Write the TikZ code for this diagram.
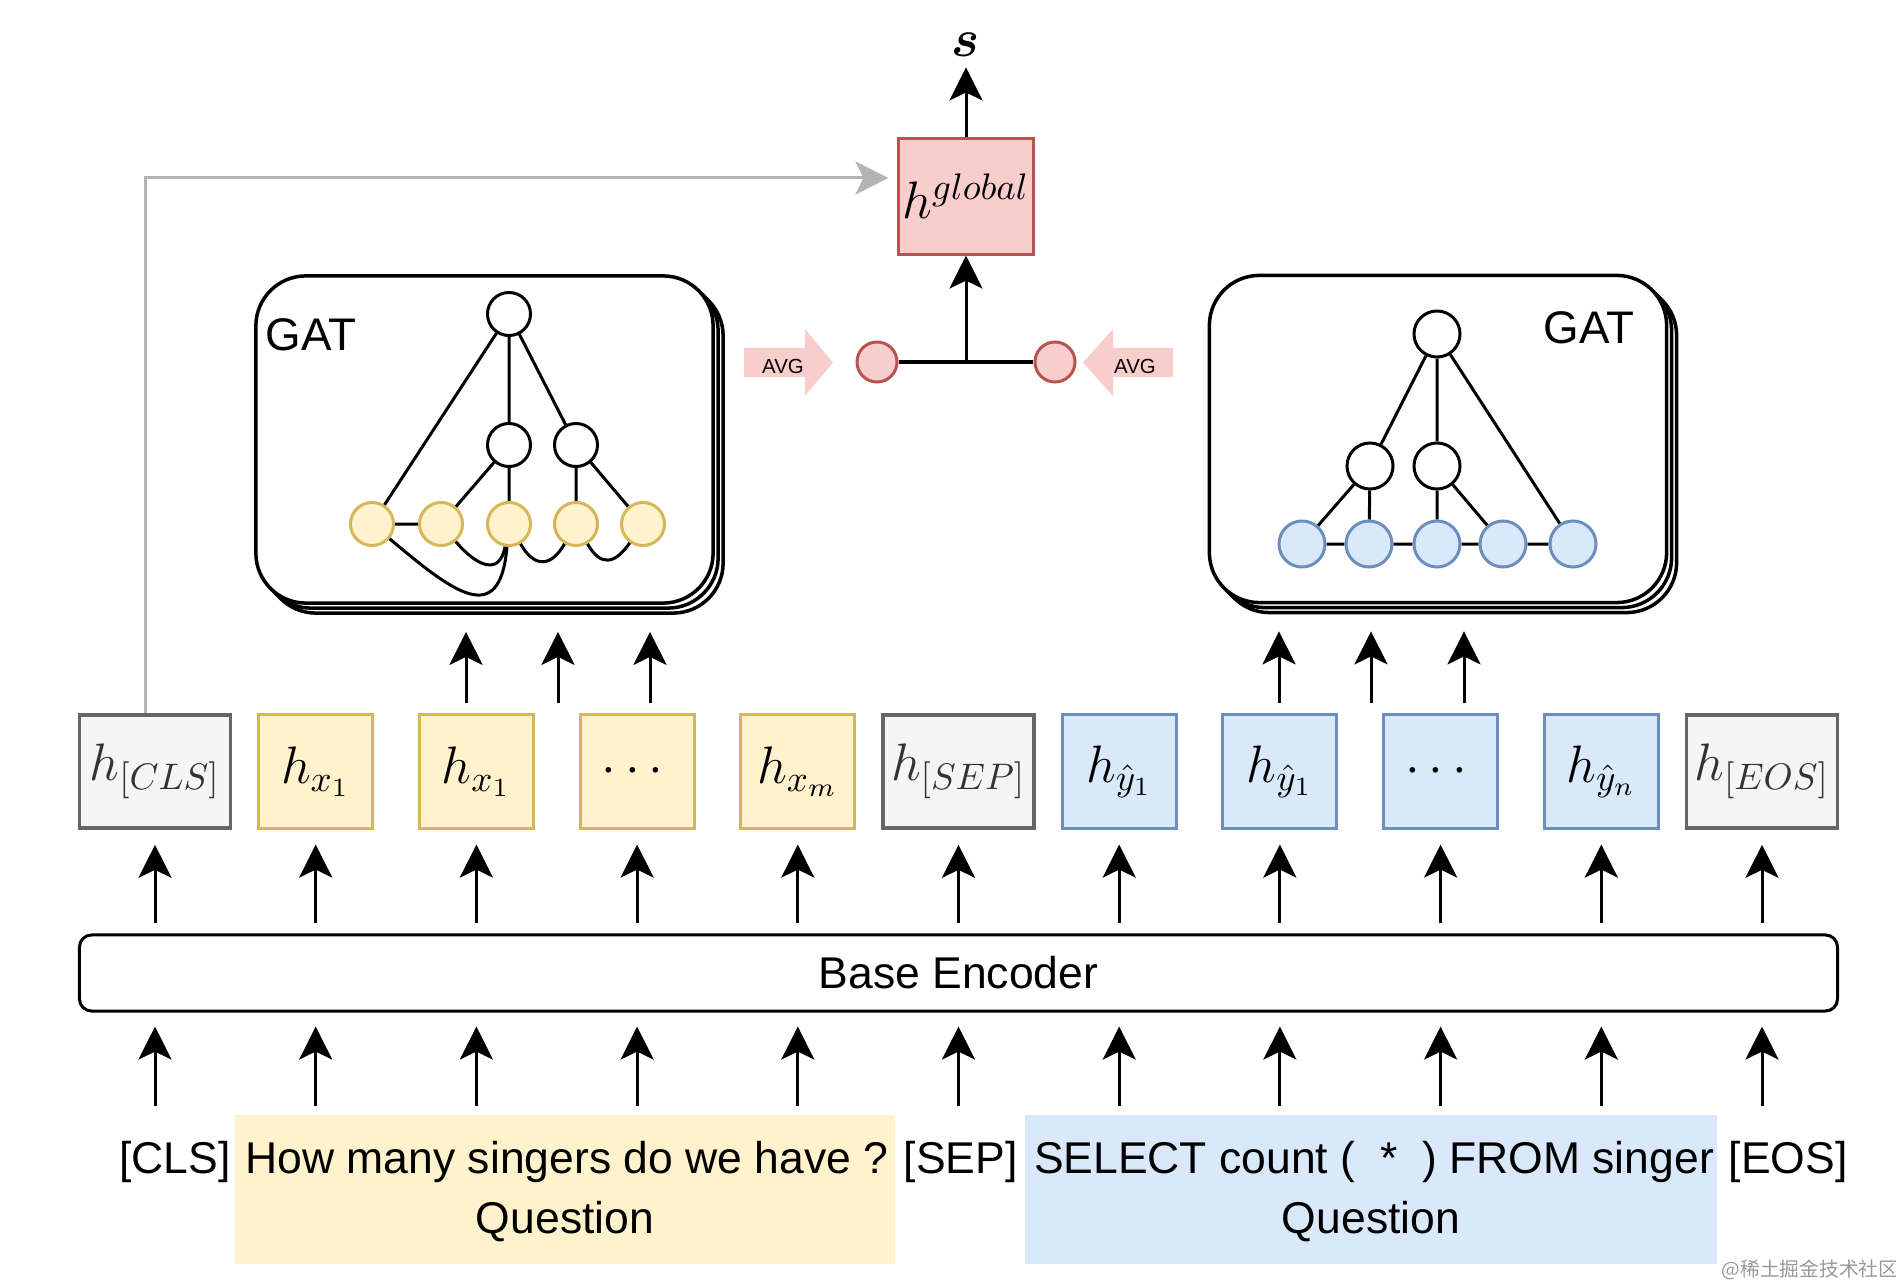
\RequirePackage{fix-cm}
\documentclass[tikz,border=0pt]{standalone}
\usepackage{amsmath}
\usepackage[no-math]{fontspec}
\setmainfont{Liberation Sans}
\newfontfamily\cjkfont{Noto Sans CJK SC}
\usetikzlibrary{arrows.meta}
\usetikzlibrary{positioning}

\definecolor{yfill}{HTML}{FFF2CC}
\definecolor{ydraw}{HTML}{D6B656}
\definecolor{bfill}{HTML}{DAE8FC}
\definecolor{bdraw}{HTML}{6C8EBF}
\definecolor{gfill}{HTML}{F5F5F5}
\definecolor{gdraw}{HTML}{666666}
\definecolor{gtext}{HTML}{333333}
\definecolor{rfill}{HTML}{F8CECC}
\definecolor{rdraw}{HTML}{B85450}
\definecolor{skipgray}{HTML}{B3B3B3}

\begin{document}
\begin{tikzpicture}[x=0.01cm, y=-0.01cm,
  lw/.style={line width=0.03cm},
  arr/.style={lw, -{Stealth[length=0.33cm, width=0.33cm, inset=0.08cm]}},
  skiparr/.style={arr, draw=skipgray},
  hbox/.style={draw, lw, minimum width=1.14cm, minimum height=1.13cm, inner sep=0pt, font=\fontsize{15}{18}\selectfont},
  ybox/.style={hbox, fill=yfill, draw=ydraw},
  bbox/.style={hbox, fill=bfill, draw=bdraw},
  gbox/.style={hbox, fill=gfill, draw=gdraw, text=gtext, minimum width=1.51cm, line width=0.035cm},
  rbox/.style={hbox, fill=rfill, draw=rdraw, minimum width=1.34cm, minimum height=1.15cm},
  gatbox/.style={draw, line width=0.035cm, fill=white, rounded corners=0.5cm, minimum width=4.57cm, minimum height=3.27cm},
  gatlbl/.style={font=\fontsize{13}{15}\selectfont, inner sep=0pt},
  vtx/.style={circle, draw, lw, fill=white, inner sep=0pt, minimum size=0.43cm},
  yvtx/.style={vtx, fill=yfill, draw=ydraw},
  wvtx/.style={vtx, minimum size=0.46cm},
  bvtx/.style={vtx, fill=bfill, draw=bdraw, minimum size=0.46cm},
  rvtx/.style={vtx, fill=rfill, draw=rdraw, minimum size=0.40cm},
  txt/.style={font=\fontsize{12.65}{15}\selectfont, inner sep=0pt, anchor=base},
  avg/.style={font=\fontsize{5.8}{7}\selectfont, inner sep=0pt},
]
  \useasboundingbox (0,0) rectangle (1896,1288);

  % GAT stacks, back layers first
  \foreach \d in {10,5} {
    \node[gatbox] at (484.5+\d,439.5+\d) {};
    \node[gatbox] at (1438+\d,439+\d) {};
  }
  \node[gatbox] (gatL) at (484.5,439.5) {};
  \node[gatbox] (gatR) at (1438,439) {};
  \node[gatlbl] (gatLl) at (311,335) {GAT};
  \node[gatlbl] (gatRl) at (1589,328) {GAT};

  % question graph
  \node[vtx] (lt) at (509,314) {};
  \node[vtx] (lma) at (509,445) {};
  \node[vtx] (lmb) at (576,445) {};
  \foreach \i/\x in {1/372,2/441,3/509,4/576,5/643}
    \node[yvtx] (ll\i) at (\x,524) {};
  \draw[lw] (lt) -- (ll1) (lt) -- (lma) (lt) -- (lmb) (lma) -- (ll2) (lma) -- (ll3)
    (lmb) -- (ll4) (lmb) -- (ll5) (ll1) -- (ll2);
  \draw[lw] (ll1) to[out=-40, in=-95, looseness=1.8] (ll3)
    (ll2) to[out=-50, in=-100, looseness=1.6] (ll3)
    (ll3) to[out=-60, in=-120, looseness=1.6] (ll4)
    (ll4) to[out=-60, in=-125, looseness=1.6] (ll5);

  % sql graph
  \node[wvtx] (rt) at (1437,334) {};
  \node[wvtx] (rma) at (1370,466) {};
  \node[wvtx] (rmb) at (1437,466) {};
  \foreach \i/\x in {1/1302,2/1369,3/1437,4/1503,5/1573}
    \node[bvtx] (rl\i) at (\x,544) {};
  \draw[lw] (rt) -- (rma) (rt) -- (rmb) (rt) -- (rl5) (rma) -- (rl1) (rma) -- (rl2)
    (rmb) -- (rl3) (rmb) -- (rl4) (rl1) -- (rl2) -- (rl3) -- (rl4) -- (rl5);

  % pooling and global vector
  \fill[rfill] (744,348) -- (805,348) -- (805,329) -- (833,362.5) -- (805,396) -- (805,377) -- (744,377) -- cycle;
  \fill[rfill] (1173,348) -- (1113,348) -- (1113,329) -- (1083,362.5) -- (1113,396) -- (1113,377) -- (1173,377) -- cycle;
  \node[avg] (avgl) at (783,366) {AVG};
  \node[avg] (avgr) at (1135,366) {AVG};
  \node[rvtx] (pl) at (877,362) {};
  \node[rvtx] (pr) at (1055,362) {};
  \draw[lw] (pl) -- (pr);
  \coordinate (jn) at (966,362);
  \node[rbox] (glob) at (966,196.5) {$h^{global}$};
  \node[font=\fontsize{15}{18}\selectfont, inner sep=0pt] (sout) at (966,45) {$\boldsymbol{s}$};
  \draw[arr] (jn) -- (glob);
  \draw[arr, shorten >=0.1cm] (glob) -- (sout);

  % token representations
  \foreach \i/\nm/\sty/\lbl in {0/cls/gbox/{h_{[CLS]}}, 1/xa/ybox/{h_{x_1}}, 2/xb/ybox/{h_{x_1}},
      3/xd/ybox/{\cdots}, 4/xm/ybox/{h_{x_m}}, 5/sep/gbox/{h_{[SEP]}}, 6/ya/bbox/{h_{\hat{y}_1}},
      7/yb/bbox/{h_{\hat{y}_1}}, 8/yd/bbox/{\cdots}, 9/yn/bbox/{h_{\hat{y}_n}}, 10/eos/gbox/{h_{[EOS]}}}
    \node[\sty] (\nm) at (155+160.7*\i,771.5) {$\lbl$};

  \draw[skiparr, shorten >=0.09cm] ([xshift=-0.09cm]cls.north) |- ([yshift=0.185cm]glob.west);
  \foreach \x in {466,558,650}
    \draw[arr, shorten <=0.1cm, shorten >=0.27cm] (\x,0 |- xa.north) -- (\x,0 |- gatL.south);
  \foreach \x in {1279,1371,1464}
    \draw[arr, shorten <=0.1cm, shorten >=0.27cm] (\x,0 |- ya.north) -- (\x,0 |- gatR.south);

  % encoder
  \node[draw, lw, rounded corners=0.12cm, minimum width=17.57cm, minimum height=0.76cm, inner sep=0pt,
    font=\fontsize{12.65}{15}\selectfont] (enc) at (958.5,973) {Base Encoder};
  \coordinate (inrow) at (0,1106);
  \foreach \nm in {cls,xa,xb,xd,xm,sep,ya,yb,yd,yn,eos} {
    \draw[arr, shorten <=0.1cm, shorten >=0.15cm] (\nm.south |- enc.north) -- (\nm.south);
    \draw[arr, shorten >=0.14cm] (\nm.south |- inrow) -- (\nm.south |- enc.south);
  }

  % input sequence
  \node[fill=yfill, inner sep=0pt, minimum width=6.6cm, minimum height=1.49cm] (qbg) at (565,1189.5) {};
  \node[fill=bfill, inner sep=0pt, minimum width=6.92cm, minimum height=1.49cm] (sbg) at (1371,1189.5) {};
  \node[txt] (tcls) at (175,1173) {[CLS]};
  \node[txt] (tq) at (567,1173) {How many singers do we have ?};
  \node[txt] (tsep) at (960.5,1173) {[SEP]};
  \node[txt] (tsql) at (1374,1173) {SELECT count (\ \ *\ \ ) FROM singer};
  \node[txt] (teos) at (1788,1173) {[EOS]};
  \node[txt] (tql) at (565,1233) {Question};
  \node[txt] (tqr) at (1371,1233) {Question};

  \node[font=\cjkfont\fontsize{5.6}{7}\selectfont, text=black!40, inner sep=0pt] (wm) at (1810,1270) {@稀土掘金技术社区};
\end{tikzpicture}
\end{document}
